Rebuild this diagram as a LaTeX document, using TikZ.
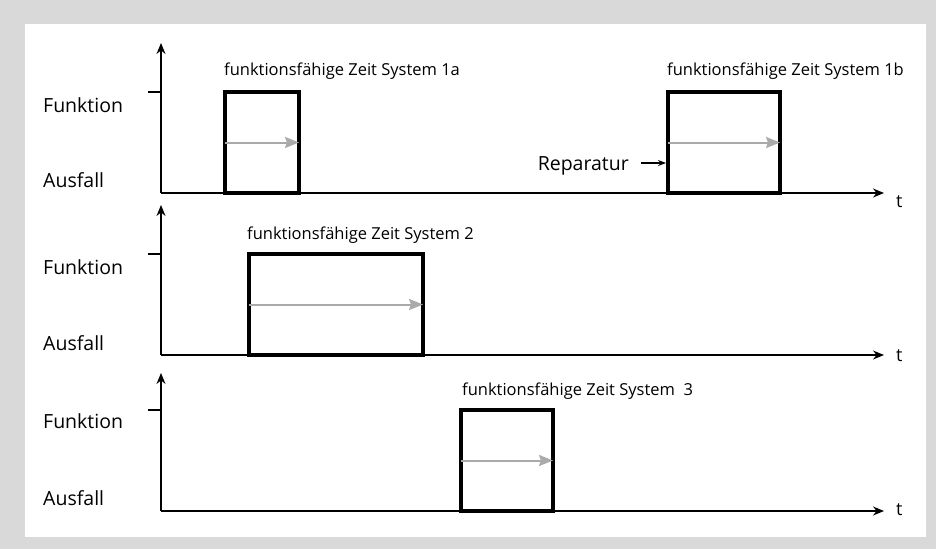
\documentclass[tikz,border=0pt]{standalone}
\usepackage{fontspec}
\setmainfont{Open Sans}
\usetikzlibrary{arrows.meta}
\definecolor{framegray}{RGB}{217,217,217}
\definecolor{flowgray}{RGB}{170,170,170}
\begin{document}
\begin{tikzpicture}[x=1pt,y=-1pt,
  axis/.style={line width=1.3pt,-{Stealth[length=11pt,width=9pt]}},
  ticktick/.style={line width=1.1pt},
  sysbox/.style={draw=black,line width=4pt,rectangle,inner sep=0pt,fill=white},
  flow/.style={draw=flowgray,line width=2pt,-{Stealth[length=14pt,width=11pt,inset=2pt]}},
  statelabel/.style={font=\fontsize{19.5}{23}\selectfont,anchor=base west,inner sep=0pt},
  syslabel/.style={font=\fontsize{16.5}{20}\selectfont,anchor=base west,inner sep=0pt},
  tlabel/.style={font=\fontsize{18}{21}\selectfont,anchor=base west,inner sep=0pt}]
% frame
\fill[framegray] (0,0) rectangle (936,549);
\fill[white] (25,24) rectangle (926,537);
\useasboundingbox (0,0) rectangle (936,549);

% ---------- panel 1 ----------
\coordinate (o1) at (161,193);
\coordinate (y1) at (161,43);
\coordinate (x1) at (884,193);
\coordinate (k1) at (148,92);
\draw[axis] (o1) -- (y1);
\draw[axis] (o1) -- (x1);
\draw[ticktick] (k1) -- (k1 -| o1);
\node[tlabel] (t1) at (896,207) {t};
\node[statelabel] (f1) at (43,112) {Funktion};
\node[statelabel] (a1) at (43,187) {Ausfall};
\node[sysbox,minimum width=74pt,minimum height=101pt] (b1a) at (262,142.5) {};
\node[sysbox,minimum width=112pt,minimum height=101pt] (b1b) at (724,142.5) {};
\draw[flow] ([xshift=2pt]b1a.west) -- ([xshift=-2pt]b1a.east);
\draw[flow] ([xshift=2pt]b1b.west) -- ([xshift=-2pt]b1b.east);
\node[syslabel] (l1a) at (224,75) {funktionsfähige Zeit System 1a};
\node[syslabel] (l1b) at (667,75) {funktionsfähige Zeit System 1b};
\node[statelabel,anchor=base east] (rep) at (629,170) {Reparatur};
\coordinate (r0) at (641,163);
\draw[line width=1.2pt,-{Stealth[length=8pt,width=6pt]}] (r0) -- (r0 -| b1b.west);

% ---------- panel 2 ----------
\coordinate (o2) at (161,355);
\coordinate (y2) at (161,205);
\coordinate (x2) at (884,355);
\coordinate (k2) at (148,254);
\draw[axis] (o2) -- (y2);
\draw[axis] (o2) -- (x2);
\draw[ticktick] (k2) -- (k2 -| o2);
\node[tlabel] (t2) at (896,361) {t};
\node[statelabel] (f2) at (43,274) {Funktion};
\node[statelabel] (a2) at (43,350) {Ausfall};
\node[sysbox,minimum width=174pt,minimum height=101pt] (b2) at (336,304.5) {};
\draw[flow] ([xshift=2pt]b2.west) -- ([xshift=-2pt]b2.east);
\node[syslabel] (l2) at (247,239) {funktionsfähige Zeit System 2};

% ---------- panel 3 ----------
\coordinate (o3) at (161,511);
\coordinate (y3) at (161,373);
\coordinate (x3) at (884,511);
\coordinate (k3) at (148,410);
\draw[axis] (o3) -- (y3);
\draw[axis] (o3) -- (x3);
\draw[ticktick] (k3) -- (k3 -| o3);
\node[tlabel] (t3) at (896,515) {t};
\node[statelabel] (f3) at (43,428) {Funktion};
\node[statelabel] (a3) at (43,505) {Ausfall};
\node[sysbox,minimum width=92pt,minimum height=101pt] (b3) at (507,460.5) {};
\draw[flow] ([xshift=2pt]b3.west) -- ([xshift=-2pt]b3.east);
\node[syslabel] (l3) at (462,395) {funktionsfähige Zeit System~~3};
\end{tikzpicture}
\end{document}
